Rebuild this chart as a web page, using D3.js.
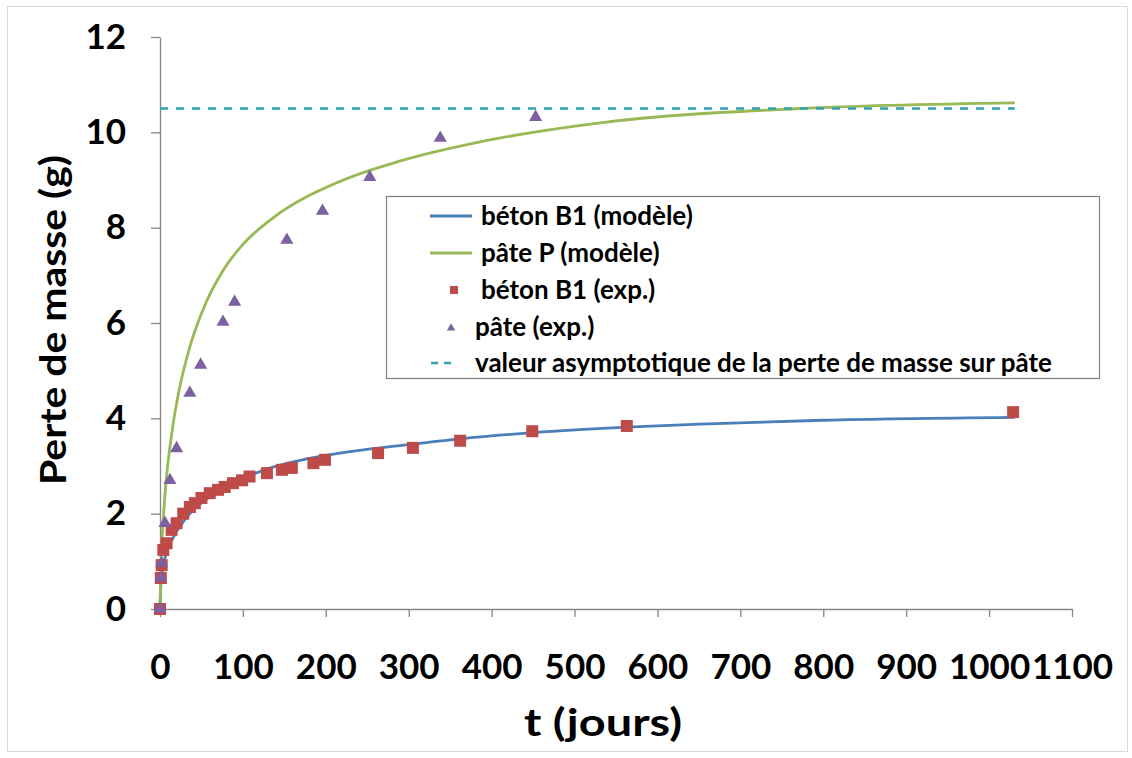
<!DOCTYPE html>
<html>
<head>
<meta charset="utf-8">
<script src="https://cdn.jsdelivr.net/npm/d3@7"></script>
<style>
  html, body { margin: 0; padding: 0; background: #fff; }
  svg { display: block; }
  text { font-family: Lato, "Open Sans", sans-serif; font-weight: bold; fill: #000; }
</style>
</head>
<body>
<svg id="chart" width="1132" height="758"></svg>
<script>
// ---- data ----
const xTicks = [0, 100, 200, 300, 400, 500, 600, 700, 800, 900, 1000, 1100];
const yTicks = [0, 2, 4, 6, 8, 10, 12];

// béton B1 (modèle)
const betonModelT = [0, 1, 4, 8, 16, 36, 60, 100, 117, 169, 217, 300, 362, 450, 571, 651, 800, 1031];
const betonModelV = [0, 0.5, 0.9, 1.2, 1.5, 2.0, 2.35, 2.72, 2.86, 3.12, 3.27, 3.45, 3.57, 3.70, 3.82, 3.88, 3.96, 4.02];

// pâte P (modèle)
const pateModelT = [0, 1, 4, 8, 12, 16, 22, 36, 50, 76, 100, 136, 217, 290, 386, 531, 772, 1031];
const pateModelV = [0, 0.8, 1.9, 2.8, 3.4, 3.9, 4.5, 5.5, 6.2, 7.1, 7.65, 8.2, 8.97, 9.4, 9.8, 10.2, 10.5, 10.62];

// béton B1 (exp.)
const betonExpT = [0, 1, 2, 4, 8, 14, 20, 28, 36, 42, 50, 60, 70, 78, 88, 99, 108, 129, 147, 159, 185, 199, 263, 305, 362, 449, 563, 1029];
const betonExpV = [0, 0.65, 0.92, 1.24, 1.38, 1.66, 1.8, 2.0, 2.14, 2.22, 2.33, 2.43, 2.5, 2.56, 2.64, 2.7, 2.78, 2.85, 2.92, 2.96, 3.06, 3.13, 3.27, 3.38, 3.53, 3.73, 3.84, 4.13];

// pâte (exp.)
const pateExpT = [0, 1, 2, 6, 12, 20, 36, 49, 76, 90, 153, 196, 253, 338, 453];
const pateExpV = [0, 0.65, 0.96, 1.8, 2.7, 3.37, 4.53, 5.12, 6.02, 6.44, 7.74, 8.35, 9.06, 9.88, 10.32];

// valeur asymptotique
const asymT = [0, 1031];
const asymV = [10.5, 10.5];

const legendLabels = [
  "béton B1 (modèle)",
  "pâte P (modèle)",
  "béton B1 (exp.)",
  "pâte (exp.)",
  "valeur asymptotique de la perte de masse sur pâte"
];

const colBlue = "#4a7ebb", colGreen = "#98b954", colRed = "#be4b48", colPurple = "#7d60a0", colTeal = "#2fa3b3";
const axisCol = "#868686";

// ---- layout ----
const svg = d3.select("#chart");
svg.append("rect").attr("x", 7.5).attr("y", 6.5).attr("width", 1120).attr("height", 745)
  .attr("fill", "#fff").attr("stroke", "#d9d9d9").attr("stroke-width", 1);

const x = d3.scaleLinear().domain([0, 1100]).range([160, 1072]);
const y = d3.scaleLinear().domain([0, 12]).range([609, 37]);

// axes
const gy = svg.append("g").attr("transform", "translate(160,0)")
  .call(d3.axisLeft(y).tickValues(yTicks).tickFormat(d3.format("d")).tickSizeInner(9).tickSizeOuter(0).tickPadding(25));
const gx = svg.append("g").attr("transform", "translate(0,609)")
  .call(d3.axisBottom(x).tickValues(xTicks).tickFormat(d3.format("d")).tickSizeInner(8).tickSizeOuter(0).tickPadding(37));
[gx, gy].forEach(g => {
  g.select(".domain").attr("stroke", axisCol).attr("stroke-width", 1.3);
  g.selectAll(".tick line").attr("stroke", axisCol).attr("stroke-width", 1.3);
  g.selectAll(".tick text").attr("font-size", 35).attr("font-family", "Lato, sans-serif").attr("font-weight", "bold").attr("fill", "#000");
});

// titles
svg.append("text").attr("transform", "translate(66,320) rotate(-90)")
  .attr("text-anchor", "middle").attr("font-size", 36)
  .attr("textLength", 330).attr("lengthAdjust", "spacingAndGlyphs").text("Perte de masse (g)");
svg.append("text").attr("x", 603).attr("y", 736)
  .attr("text-anchor", "middle").attr("font-size", 38)
  .attr("textLength", 158).attr("lengthAdjust", "spacingAndGlyphs").text("t (jours)");

// lines
const line = d3.line().x(d => x(d[0])).y(d => y(d[1])).curve(d3.curveMonotoneX);
const zip = (a, b) => a.map((v, i) => [v, b[i]]);

svg.append("path").datum(zip(betonModelT, betonModelV)).attr("d", line)
  .attr("fill", "none").attr("stroke", colBlue).attr("stroke-width", 2.8);
svg.append("path").datum(zip(pateModelT, pateModelV)).attr("d", line)
  .attr("fill", "none").attr("stroke", colGreen).attr("stroke-width", 2.8);
svg.append("path").datum(zip(asymT, asymV)).attr("d", d3.line().x(d => x(d[0])).y(d => y(d[1])))
  .attr("fill", "none").attr("stroke", colTeal).attr("stroke-width", 2.6).attr("stroke-dasharray", "8,8");

// markers
svg.append("g").selectAll("rect").data(zip(betonExpT, betonExpV)).join("rect")
  .attr("x", d => x(d[0]) - 6).attr("y", d => y(d[1]) - 6)
  .attr("width", 12).attr("height", 12).attr("fill", colRed);
const tri = d3.symbol().type(d3.symbolTriangle).size(75);
svg.append("g").selectAll("path").data(zip(pateExpT, pateExpV)).join("path")
  .attr("transform", d => `translate(${x(d[0])},${y(d[1])})`).attr("d", tri).attr("fill", colPurple);

// legend
const lg = svg.append("g");
lg.append("rect").attr("x", 386.5).attr("y", 196.5).attr("width", 713).attr("height", 182)
  .attr("fill", "#fff").attr("stroke", "#808080").attr("stroke-width", 1.2);
const rowY = [216, 253, 290, 327, 363];
const textX = [481, 481, 481, 475, 475];
lg.append("line").attr("x1", 430).attr("x2", 472).attr("y1", rowY[0]).attr("y2", rowY[0]).attr("stroke", colBlue).attr("stroke-width", 2.8);
lg.append("line").attr("x1", 430).attr("x2", 472).attr("y1", rowY[1]).attr("y2", rowY[1]).attr("stroke", colGreen).attr("stroke-width", 2.8);
lg.append("rect").attr("x", 450).attr("y", rowY[2] - 4).attr("width", 8).attr("height", 8).attr("fill", colRed);
lg.append("path").attr("transform", `translate(451,${rowY[3] + 1})`).attr("d", d3.symbol().type(d3.symbolTriangle).size(30)).attr("fill", colPurple);
lg.append("line").attr("x1", 431).attr("x2", 455).attr("y1", rowY[4]).attr("y2", rowY[4]).attr("stroke", colTeal).attr("stroke-width", 2.6).attr("stroke-dasharray", "7,6");
lg.selectAll("text.lab").data(legendLabels).join("text").attr("class", "lab")
  .attr("x", (d, i) => textX[i]).attr("y", (d, i) => rowY[i]).attr("dy", "0.35em")
  .attr("font-size", 26).text(d => d);
</script>
</body>
</html>
